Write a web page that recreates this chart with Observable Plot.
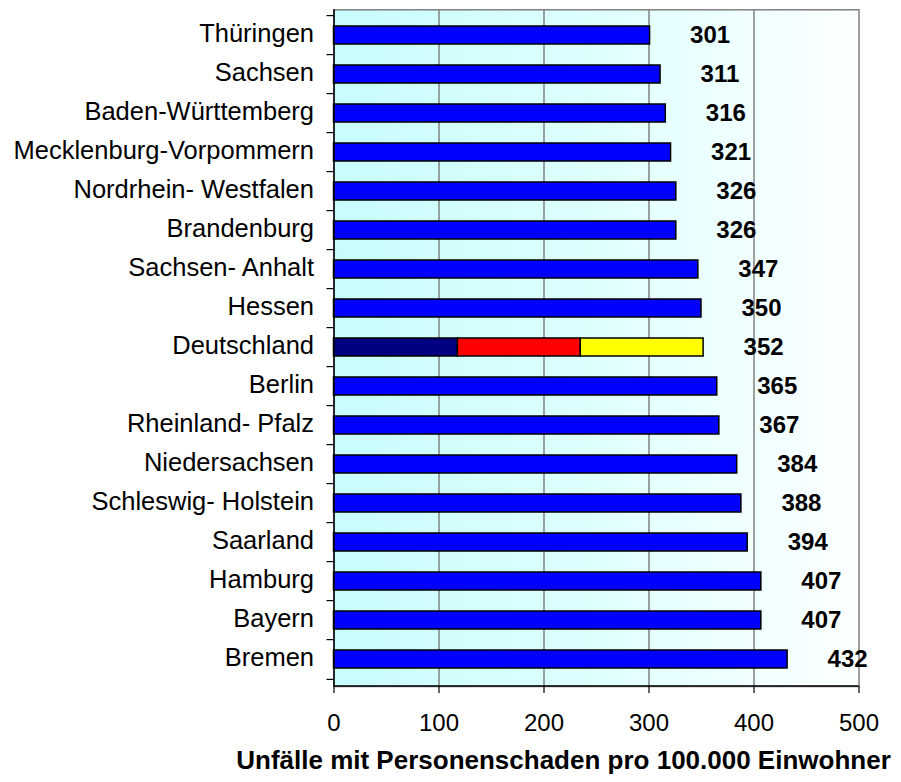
<!DOCTYPE html>
<html>
<head>
<meta charset="utf-8">
<script src="https://cdn.jsdelivr.net/npm/d3@7"></script>
<script src="https://cdn.jsdelivr.net/npm/@observablehq/plot@0.6"></script>
<style>
  html, body { margin: 0; padding: 0; background: #ffffff; }
  #chart { width: 901px; height: 782px; }
</style>
</head>
<body>
<div id="chart"></div>
<script>
// ---- data ----
const states = ["Thüringen","Sachsen","Baden-Württemberg","Mecklenburg-Vorpommern","Nordrhein- Westfalen","Brandenburg","Sachsen- Anhalt","Hessen","Deutschland","Berlin","Rheinland- Pfalz","Niedersachsen","Schleswig- Holstein","Saarland","Hamburg","Bayern","Bremen"];
const values = [301,311,316,321,326,326,347,350,352,365,367,384,388,394,407,407,432];
const germanyName = "Deutschland";
const germanyParts = ["Teil 1","Teil 2","Teil 3"];
const germanyPartValues = [118,117,117];
const xTicks = [0,100,200,300,400,500];
const gridTicks = [100,200,300,400];
const xTitle = "Unfälle mit Personenschaden pro 100.000 Einwohner";

// ---- table for bars ----
const bars = [];
states.forEach((s, i) => {
  if (s === germanyName) {
    germanyParts.forEach((p, j) => bars.push({state: s, part: p, value: germanyPartValues[j]}));
  } else {
    bars.push({state: s, part: "Land", value: values[i]});
  }
});
const labels = states.map((s, i) => ({state: s, value: values[i]}));

const W = 901, H = 782;
const mL = 333.5, mR = 42.5, mT = 9.3, mB = 96;
const step = (H - mT - mB) / states.length;
const font = "'Liberation Sans', Arial, Helvetica, sans-serif";
const ns = "http://www.w3.org/2000/svg";

const defs = () => {
  const d = document.createElementNS(ns, "defs");
  d.innerHTML = `<linearGradient id="bg" x1="0" x2="1" y1="0" y2="0">
      <stop offset="0" stop-color="#c8fcfc"/>
      <stop offset="0.45" stop-color="#dcfefe"/>
      <stop offset="1" stop-color="#fcffff"/>
    </linearGradient>`;
  return d;
};

// black x-axis baseline along the bottom of the frame
const baseline = (index, scales, values, dims) => {
  const l = document.createElementNS(ns, "line");
  const y = dims.height - dims.marginBottom;
  l.setAttribute("x1", dims.marginLeft);
  l.setAttribute("x2", dims.width - dims.marginRight);
  l.setAttribute("y1", y);
  l.setAttribute("y2", y);
  l.setAttribute("stroke", "#000000");
  l.setAttribute("stroke-width", 1.5);
  return l;
};

const chart = Plot.plot({
  width: W,
  height: H,
  marginLeft: mL,
  marginRight: mR,
  marginTop: mT,
  marginBottom: mB,
  style: {fontFamily: font, background: "#ffffff", overflow: "visible"},
  x: {domain: [0, 500], nice: false},
  y: {domain: states, paddingInner: 0.53, paddingOuter: 0.265, label: null},
  color: {domain: ["Land", ...germanyParts], range: ["#0000ff", "#000080", "#ff0000", "#ffff00"]},
  marks: [
    defs,
    Plot.frame({fill: "url(#bg)", stroke: "#808080", strokeWidth: 1.5}),
    Plot.ruleX(gridTicks, {stroke: "#808080", strokeWidth: 1.5}),
    Plot.barX(bars, Plot.stackX({x: "value", y: "state", fill: "part", stroke: "#000000", strokeWidth: 1.5})),
    Plot.ruleX([0], {stroke: "#000000", strokeWidth: 1.5}),
    baseline,
    // y axis labels
    Plot.axisY({tickSize: 0, tickPadding: 20, fontSize: 25.5, fill: "#000000", dy: -1.5, label: null}),
    // y tick marks at category boundaries
    Plot.axisY({tickSize: 7, tickFormat: () => "", dy: -step / 2, stroke: "#000000", strokeWidth: 1.2, label: null}),
    Plot.axisY({ticks: [states[states.length - 1]], tickSize: 7, tickFormat: () => "", dy: step / 2, stroke: "#000000", strokeWidth: 1.2, label: null}),
    // x axis
    Plot.axisX({ticks: xTicks, tickSize: 7, tickPadding: 20, fontSize: 24, fill: "#000000", stroke: "#000000", strokeWidth: 1.2, label: null, tickFormat: d => String(d)}),
    // value labels
    Plot.text(labels, {x: "value", y: "state", text: d => String(d.value), textAnchor: "start", dx: 40, dy: 0, fontSize: 24, fontWeight: "bold", fill: "#000000"}),
    // x title
    Plot.text([xTitle], {frameAnchor: "bottom", text: d => d, dx: -33, dy: 82, fontSize: 26, fontWeight: "bold", fill: "#000000"})
  ]
});

document.getElementById("chart").appendChild(chart);
</script>
</body>
</html>
